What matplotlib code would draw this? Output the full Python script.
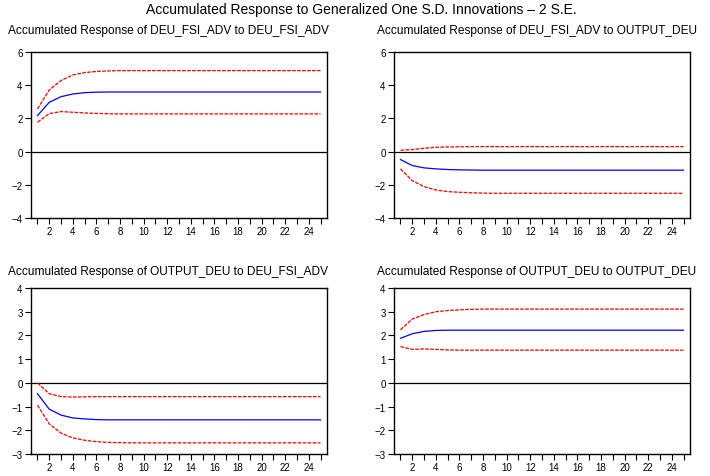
import numpy as np
import matplotlib
matplotlib.use("Agg")
import matplotlib.pyplot as plt

plt.rcParams['font.family'] = ['Liberation Sans', 'DejaVu Sans']

periods = list(range(1, 26))

def flat(vals, n=25):
    # hold the last read value out to the end of the horizon
    return vals + [vals[-1]] * (n - len(vals))

# DEU_FSI_ADV response to DEU_FSI_ADV
r11 = flat([2.17, 2.97, 3.31, 3.47, 3.55, 3.58, 3.59])
u11 = flat([2.57, 3.71, 4.28, 4.62, 4.76, 4.83, 4.86, 4.88])
l11 = flat([1.77, 2.29, 2.41, 2.37, 2.33, 2.30, 2.28, 2.27])

# DEU_FSI_ADV response to OUTPUT_DEU
r12 = flat([-0.48, -0.84, -0.98, -1.04, -1.08, -1.10, -1.11, -1.12])
u12 = flat([0.08, 0.12, 0.20, 0.26, 0.28, 0.29, 0.30])
l12 = flat([-1.04, -1.75, -2.11, -2.31, -2.41, -2.45, -2.48, -2.50, -2.51])

# OUTPUT_DEU response to DEU_FSI_ADV
r21 = flat([-0.46, -1.11, -1.36, -1.48, -1.52, -1.55, -1.56])
u21 = flat([0.0, -0.46, -0.58, -0.60, -0.59, -0.58])
l21 = flat([-0.94, -1.73, -2.12, -2.32, -2.42, -2.48, -2.51, -2.52, -2.53])

# OUTPUT_DEU response to OUTPUT_DEU
r22 = flat([1.88, 2.07, 2.17, 2.21, 2.22])
u22 = flat([2.24, 2.69, 2.88, 3.00, 3.05, 3.08, 3.10, 3.11])
l22 = flat([1.53, 1.41, 1.43, 1.41, 1.39, 1.38])

titles = ["Accumulated Response of DEU_FSI_ADV to DEU_FSI_ADV",
          "Accumulated Response of DEU_FSI_ADV to OUTPUT_DEU",
          "Accumulated Response of OUTPUT_DEU to DEU_FSI_ADV",
          "Accumulated Response of OUTPUT_DEU to OUTPUT_DEU"]
series = [(r11, u11, l11), (r12, u12, l12), (r21, u21, l21), (r22, u22, l22)]
ylims = [(-4, 6), (-4, 6), (-3, 4), (-3, 4)]
yticks = [[-4, -2, 0, 2, 4, 6], [-4, -2, 0, 2, 4, 6],
          [-3, -2, -1, 0, 1, 2, 3, 4], [-3, -2, -1, 0, 1, 2, 3, 4]]

fig = plt.figure(figsize=(7.1, 4.77), dpi=100)
W, H = 710, 477
# axes boxes in pixels: left, top, right, bottom
boxes = [(31, 53, 327, 219), (394, 53, 690, 219),
         (31, 289, 327, 455), (394, 289, 690, 455)]
title_pos = [(8, 31), (377, 31), (8, 272), (377, 272)]

fig.text(361 / W, 1 - 10 / H, "Accumulated Response to Generalized One S.D. Innovations \u2013 2 S.E.",
         ha='center', va='center', fontsize=10)

for i in range(4):
    l, t, r, b = boxes[i]
    ax = fig.add_axes([l / W, 1 - b / H, (r - l) / W, (b - t) / H])
    resp, up, lo = series[i]
    ax.axhline(0, color='black', lw=0.9)
    ax.plot(periods, resp, color='#0000ff', lw=0.9)
    ax.plot(periods, up, color='#ff0000', lw=0.9, ls=(0, (3, 1)))
    ax.plot(periods, lo, color='#ff0000', lw=0.9, ls=(0, (3, 1)))
    ax.set_xlim(0.45, 25.55)
    ax.set_ylim(*ylims[i])
    ax.set_xticks(range(2, 26, 2))
    ax.set_xticks(range(1, 26), minor=True)
    ax.set_yticks(yticks[i])
    ax.tick_params(labelsize=7, length=4, width=0.8, direction='out', pad=2)
    ax.tick_params(which='minor', length=4, width=0.8)
    for s in ax.spines.values():
        s.set_linewidth(1.0)
    tx, ty = title_pos[i]
    fig.text(tx / W, 1 - ty / H, titles[i], ha='left', va='center', fontsize=8.6)

fig.savefig("out.png", dpi=100)
